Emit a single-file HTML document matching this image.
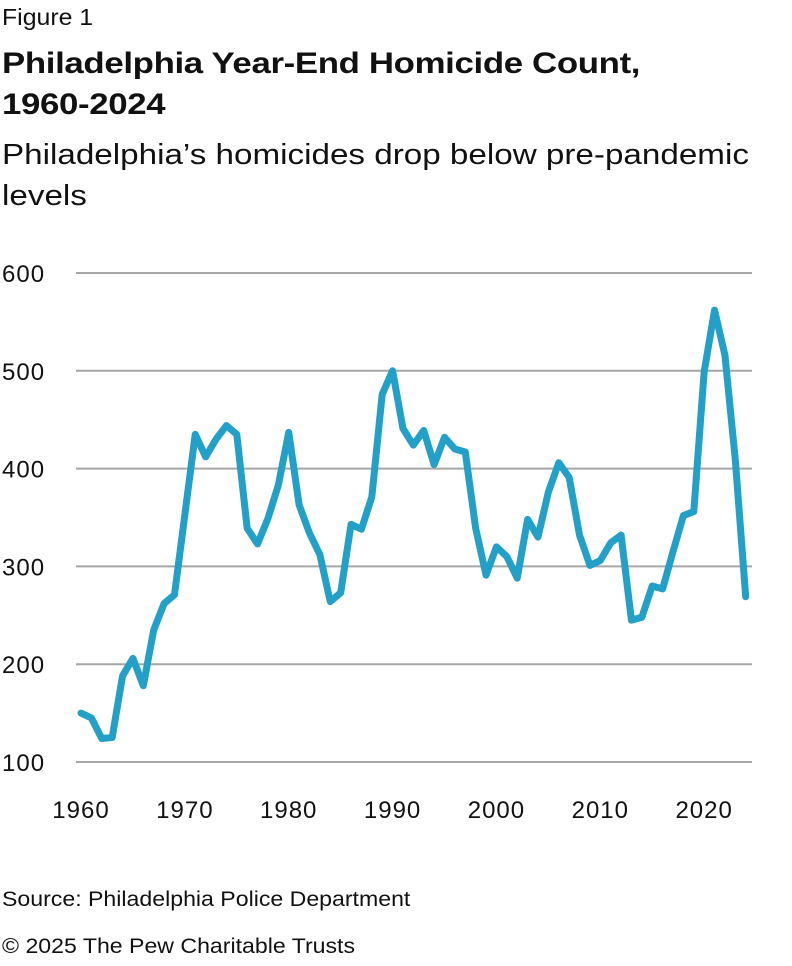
<!DOCTYPE html>
<html><head><meta charset="utf-8"><style>
body{margin:0;width:792px;height:966px;background:#fff;font-family:"Liberation Sans",sans-serif;color:#111;position:relative;overflow:hidden}
.t{position:absolute;left:2px;white-space:nowrap;transform-origin:left top}
</style></head><body>
<div class="t" style="top:4px;font-size:23px;transform:scaleX(1.08)">Figure 1</div>
<div class="t" style="top:43px;font-size:30px;font-weight:bold;line-height:41px;letter-spacing:-0.3px;transform:scaleX(1.16)">Philadelphia Year-End Homicide Count,<br>1960-2024</div>
<div class="t" style="top:135px;font-size:29px;line-height:41px;transform:scaleX(1.145)">Philadelphia’s homicides drop below pre-pandemic<br>levels</div>
<svg width="792" height="860" style="position:absolute;left:0;top:0" id="chart"></svg>
<div class="t" style="top:888px;font-size:21px;transform:scaleX(1.1)">Source: Philadelphia Police Department</div>
<div class="t" style="top:935px;font-size:21px;transform:scaleX(1.1)">© 2025 The Pew Charitable Trusts</div>
<script>
const years=[];for(let y=1960;y<=2024;y++)years.push(y);
const homicides=[150,145,124,125,188,206,178,235,262,271,353,435,412,430,444,435,339,323,349,383,437,363,334,312,264,273,343,338,371,476,500,441,424,439,404,432,420,417,339,291,320,310,288,348,330,376,406,391,332,301,306,324,332,245,248,280,277,315,352,356,499,562,516,409,269];
const yTicks=[100,200,300,400,500,600];
const xTicks=[1960,1970,1980,1990,2000,2010,2020];
const NS="http://www.w3.org/2000/svg";
const svg=document.getElementById('chart');
const xs=y=>81+(y-1960)*(745.7-81)/64;
const ys=v=>762-(v-100)*0.978;
yTicks.forEach(t=>{
 const l=document.createElementNS(NS,'line');
 
 
 l.setAttribute('x1',76);l.setAttribute('x2',752);l.setAttribute('y1',ys(t));l.setAttribute('y2',ys(t));
 l.setAttribute('stroke','#a6a6a6');l.setAttribute('stroke-width','2');svg.appendChild(l);
 const tx=document.createElementNS(NS,'text');
 
 
 tx.setAttribute('x',2);tx.setAttribute('y',ys(t)+9);tx.setAttribute('font-size','24');tx.setAttribute('letter-spacing','1');tx.setAttribute('fill','#111');
 tx.textContent=t;svg.appendChild(tx);
});
xTicks.forEach(t=>{
 const tx=document.createElementNS(NS,'text');
 
 
 tx.setAttribute('x',xs(t));tx.setAttribute('y',818);tx.setAttribute('font-size','24');tx.setAttribute('letter-spacing','1');tx.setAttribute('text-anchor','middle');tx.setAttribute('fill','#111');
 tx.textContent=t;svg.appendChild(tx);
});
const p=document.createElementNS(NS,'polyline');


p.setAttribute('points',years.map((y,i)=>xs(y)+','+ys(homicides[i])).join(' '));
p.setAttribute('fill','none');p.setAttribute('stroke','#22a0c8');p.setAttribute('stroke-width','7');p.setAttribute('stroke-linejoin','round');p.setAttribute('stroke-linecap','round');
svg.appendChild(p);
</script>
</body></html>
